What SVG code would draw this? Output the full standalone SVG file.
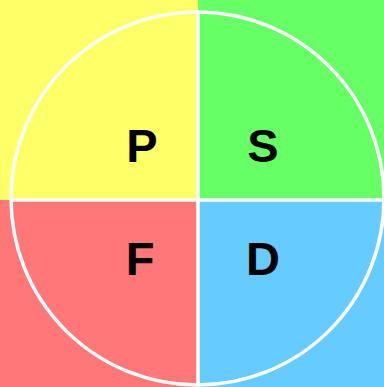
<svg xmlns="http://www.w3.org/2000/svg" width="384" height="387" viewBox="0 0 384 387">
<style>
.lbl{font-family:"Liberation Sans",Arial,sans-serif;font-weight:bold;font-size:47px;fill:#000;text-anchor:middle}
.ln{stroke:#fff;stroke-width:3.5;fill:none}
</style>
<g id="quadrant-P"><rect x="0" y="0" width="198" height="200" fill="#FFFF66"/><text class="lbl" x="142" y="162">P</text></g>
<g id="quadrant-S"><rect x="198" y="0" width="186" height="200" fill="#66FF66"/><text class="lbl" x="263" y="162">S</text></g>
<g id="quadrant-F"><rect x="0" y="200" width="198" height="187" fill="#FF7777"/><text class="lbl" x="140" y="275">F</text></g>
<g id="quadrant-D"><rect x="198" y="200" width="186" height="187" fill="#66CCFF"/><text class="lbl" x="263" y="275">D</text></g>
<g id="connectors">
<circle class="ln" cx="197.5" cy="198.5" r="186.5" stroke-width="3"/>
<line class="ln" x1="198" y1="11" x2="198" y2="386"/>
<line class="ln" x1="10" y1="200" x2="384" y2="200"/>
</g>
</svg>
